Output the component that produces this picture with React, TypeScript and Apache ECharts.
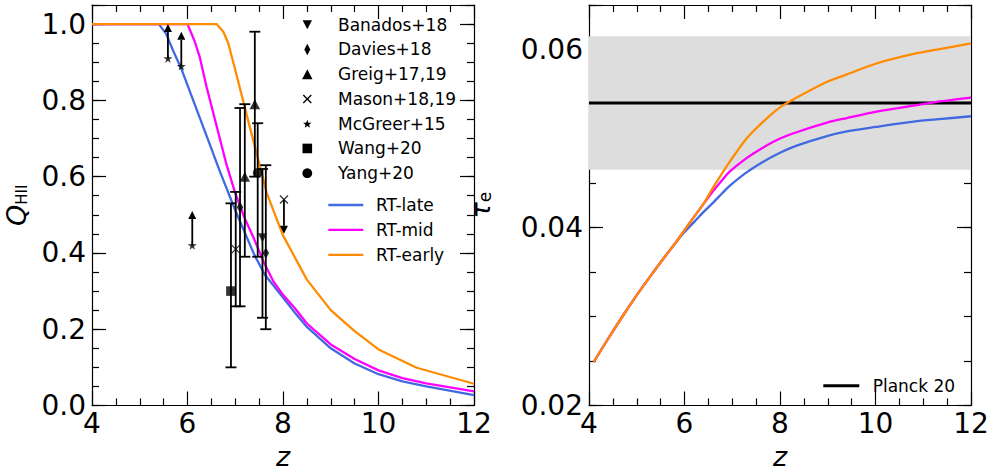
import React, { useEffect, useRef } from 'react';
import * as echarts from 'echarts';

// ---------- data: left panel (ionized fraction) ----------
const zLate = [4.0, 5.4, 5.55, 5.7, 5.87, 6.12, 6.4, 6.68, 7.0, 7.4, 7.62, 8.0, 8.25, 8.5, 9.0, 9.5, 10.0, 10.5, 11.0, 12.0];
const qLate = [1.0, 1.0, 0.975, 0.93, 0.883, 0.8, 0.707, 0.613, 0.512, 0.395, 0.343, 0.283, 0.243, 0.206, 0.15, 0.11, 0.082, 0.063, 0.05, 0.027];
const zMid = [4.0, 6.0, 6.15, 6.26, 6.4, 6.61, 6.82, 7.0, 7.2, 7.4, 7.6, 7.8, 8.0, 8.25, 8.5, 9.0, 9.5, 10.0, 10.5, 11.0, 12.0];
const qMid = [1.0, 1.0, 0.955, 0.912, 0.835, 0.733, 0.63, 0.557, 0.49, 0.435, 0.375, 0.325, 0.29, 0.255, 0.215, 0.16, 0.122, 0.092, 0.072, 0.058, 0.037];
const zEarly = [4.0, 6.61, 6.75, 6.85, 7.03, 7.24, 7.45, 7.66, 8.0, 8.5, 9.0, 9.5, 10.0, 10.8, 12.0];
const qEarly = [1.0, 1.0, 0.98, 0.951, 0.865, 0.762, 0.66, 0.557, 0.446, 0.33, 0.25, 0.195, 0.147, 0.099, 0.057];

// observational constraints
const banadosZ = [7.57], banadosQ = [0.44], banadosLo = [0.23], banadosHi = [0.62];
const daviesZ = [7.1, 7.64], daviesQ = [0.52, 0.4], daviesLo = [0.26, 0.2], daviesHi = [0.78, 0.63];
const greigZ = [7.2, 7.41], greigQ = [0.6, 0.79], greigLo = [0.39, 0.6], greigHi = [0.79, 0.98];
const masonZ = [7.01], masonQ = [0.41], masonLo = [0.26], masonHi = [0.56];
const masonUpperZ = [8.02], masonUpperQ = [0.54];
const mcgreerZ = [5.59, 5.87, 6.1], mcgreerQ = [0.91, 0.89, 0.42];
const wangZ = [6.91], wangQ = [0.3], wangLo = [0.1], wangHi = [0.53];
const yangZ = [7.47], yangQ = [0.61], yangLo = [0.39], yangHi = [0.74];
const LIMIT_LEN = 0.09;

// ---------- data: right panel (optical depth) ----------
const zTau = [4.1, 4.4, 4.7, 5.0, 5.35, 5.6, 5.83, 6.0, 6.2, 6.39, 6.6, 6.8, 6.95, 7.3, 7.65, 8.0, 8.35, 9.0, 9.4, 10.0, 10.8, 11.4, 12.0];
const tauLate = [0.0249, 0.0275, 0.03, 0.0324, 0.035, 0.0368, 0.0384, 0.0395, 0.0406, 0.0417, 0.0428, 0.0439, 0.0447, 0.0462, 0.0474, 0.0484, 0.0492, 0.0503, 0.0508, 0.0513, 0.0519, 0.0522, 0.0525];
const tauMid = [0.0249, 0.0275, 0.03, 0.0324, 0.035, 0.0368, 0.0384, 0.0397, 0.0412, 0.0426, 0.0441, 0.0454, 0.0463, 0.0478, 0.049, 0.05, 0.0507, 0.0518, 0.0523, 0.053, 0.0537, 0.0542, 0.0546];
const tauEarly = [0.0249, 0.0275, 0.03, 0.0324, 0.035, 0.0368, 0.0384, 0.0397, 0.0412, 0.0426, 0.0445, 0.0462, 0.0474, 0.05, 0.0519, 0.0535, 0.0546, 0.0564, 0.0572, 0.0584, 0.0595, 0.0601, 0.0607];
const tauPlanck = 0.054;
const tauPlanckLo = 0.0465;
const tauPlanckHi = 0.0615;

// ---------- axes ----------
const X_MIN = 4, X_MAX = 12, X_STEP = 2;
const Q_MIN = 0, Q_MAX = 1.05, Q_STEP = 0.2, Q_MINOR = 0.05;
const T_MIN = 0.02, T_MAX = 0.065, T_STEP = 0.02, T_MINOR = 0.005;

const FONT = "'DejaVu Sans', sans-serif";
const TICK_FS = 28;
const BLUE = '#4169E1', MAGENTA = '#FF00FF', ORANGE = '#FF8C00';

const SYM_TRI_DOWN = 'path://M0,0L10,0L5,9Z';
const SYM_TRI_UP = 'path://M5,0L10,9L0,9Z';
const SYM_STAR = 'path://M50,0L61,35L98,35L68,57L79,91L50,70L21,91L32,57L2,35L39,35Z';
const SYM_X = 'path://M0,0L10,10M10,0L0,10';

const axisLineStyle = { color: '#000', width: 1.2 };

function xAxesFor(gridIndex: number) {
  const base: any = {
    type: 'value', gridIndex, min: X_MIN, max: X_MAX, interval: X_STEP,
    splitLine: { show: false },
    axisLine: { show: true, onZero: false, lineStyle: axisLineStyle },
    axisTick: { show: true, inside: true, length: 14, lineStyle: axisLineStyle },
    minorTick: { show: true, splitNumber: 4, length: 7, lineStyle: axisLineStyle },
  };
  return [
    {
      ...base, position: 'bottom',
      axisLabel: { show: true, margin: 4, fontSize: TICK_FS, fontFamily: FONT, color: '#000' },
      name: 'z', nameLocation: 'middle', nameGap: 51,
      nameTextStyle: { fontFamily: FONT, fontStyle: 'italic', fontSize: 27, color: '#000', verticalAlign: 'middle' },
    },
    { ...base, position: 'top', axisLabel: { show: false } },
  ];
}

function yAxesFor(gridIndex: number, min: number, max: number, major: number, minor: number, decimals: number, name: string, nameGap: number, rich: any) {
  const tick = (len: number) => ({ show: true, inside: true, length: len, lineStyle: axisLineStyle });
  const base: any = { type: 'value', gridIndex, min, max, splitLine: { show: false }, minorTick: { show: false } };
  const fmt = (v: number) => (Math.abs(v / major - Math.round(v / major)) < 1e-6 ? v.toFixed(decimals) : '');
  return [
    {
      ...base, position: 'left', interval: major,
      axisLine: { show: true, onZero: false, lineStyle: axisLineStyle }, axisTick: tick(14),
      axisLabel: { show: true, margin: 6, fontSize: TICK_FS, fontFamily: FONT, color: '#000', formatter: fmt },
      name, nameLocation: 'middle', nameGap, nameRotate: 90,
      nameTextStyle: { fontFamily: FONT, fontSize: 26, color: '#000', verticalAlign: 'middle', rich },
    },
    { ...base, position: 'left', interval: minor, axisLine: { show: false }, axisTick: tick(7), axisLabel: { show: false } },
    { ...base, position: 'right', interval: major, axisLine: { show: true, onZero: false, lineStyle: axisLineStyle }, axisTick: tick(14), axisLabel: { show: false } },
    { ...base, position: 'right', interval: minor, axisLine: { show: false }, axisTick: tick(7), axisLabel: { show: false } },
  ];
}

function pairs(xs: number[], ys: number[]) {
  return xs.map((x, i) => [x, ys[i]]);
}

function curve(name: string, xs: number[], ys: number[], color: string, xi: number, yi: number, smooth: any = false) {
  return {
    type: 'line', name, xAxisIndex: xi, yAxisIndex: yi, data: pairs(xs, ys),
    showSymbol: false, symbol: 'none', smooth, z: 2,
    lineStyle: { color, width: 2.3 }, itemStyle: { color }, silent: true,
  };
}

const CAP = 5.5;
function errorBars(name: string, zs: number[], los: number[], his: number[]) {
  return {
    type: 'custom', name: name + ' err', xAxisIndex: 0, yAxisIndex: 0, z: 3, silent: true,
    data: zs.map((z, i) => [z, los[i], his[i]]),
    renderItem: (params: any, api: any) => {
      const x = api.value(0);
      const a = api.coord([x, api.value(1)]);
      const b = api.coord([x, api.value(2)]);
      const style = { stroke: '#000', lineWidth: 1.8 };
      return {
        type: 'group',
        children: [
          { type: 'line', shape: { x1: a[0], y1: a[1], x2: b[0], y2: b[1] }, style },
          { type: 'line', shape: { x1: a[0] - CAP, y1: a[1], x2: a[0] + CAP, y2: a[1] }, style },
          { type: 'line', shape: { x1: b[0] - CAP, y1: b[1], x2: b[0] + CAP, y2: b[1] }, style },
        ],
      };
    },
  };
}

function limitArrows(name: string, zs: number[], qs: number[], dirSign: number) {
  return {
    type: 'custom', name: name + ' lim', xAxisIndex: 0, yAxisIndex: 0, z: 3, silent: true,
    data: zs.map((z, i) => [z, qs[i], qs[i] + dirSign * LIMIT_LEN]),
    renderItem: (params: any, api: any) => {
      const x = api.value(0);
      const a = api.coord([x, api.value(1)]);
      const b = api.coord([x, api.value(2)]);
      const dir = b[1] < a[1] ? -1 : 1;
      const H = 8, W = 8;
      const base = b[1] - dir * H;
      return {
        type: 'group',
        children: [
          { type: 'line', shape: { x1: a[0], y1: a[1], x2: b[0], y2: base }, style: { stroke: '#000', lineWidth: 1.8 } },
          { type: 'polygon', shape: { points: [[b[0], b[1]], [b[0] - W / 2, base], [b[0] + W / 2, base]] }, style: { fill: '#000' } },
        ],
      };
    },
  };
}

function markers(name: string, zs: number[], qs: number[], symbol: string, size: any, hollow = false) {
  return {
    type: 'scatter', name, xAxisIndex: 0, yAxisIndex: 0, z: 4, silent: true,
    data: pairs(zs, qs), symbol, symbolSize: size,
    itemStyle: hollow ? { color: 'rgba(0,0,0,0)', borderColor: '#000', borderWidth: 1.3 } : { color: '#000' },
  };
}

// ---------- legend drawing helpers (graphic) ----------
function starPoints(cx: number, cy: number, R: number, r: number) {
  const pts: number[][] = [];
  for (let k = 0; k < 10; k++) {
    const ang = -Math.PI / 2 + (k * Math.PI) / 5;
    const rad = k % 2 === 0 ? R : r;
    pts.push([cx + rad * Math.cos(ang), cy + rad * Math.sin(ang)]);
  }
  return pts;
}

function legendMarker(kind: string, cx: number, cy: number): any {
  const s = { fill: '#000' };
  switch (kind) {
    case 'tridown':
      return { type: 'polygon', shape: { points: [[cx - 4.7, cy - 4.5], [cx + 4.7, cy - 4.5], [cx, cy + 4.5]] }, style: s };
    case 'diamond':
      return { type: 'polygon', shape: { points: [[cx, cy - 5.8], [cx + 3, cy], [cx, cy + 5.8], [cx - 3, cy]] }, style: s };
    case 'triup':
      return { type: 'polygon', shape: { points: [[cx, cy - 5], [cx + 5.2, cy + 5], [cx - 5.2, cy + 5]] }, style: s };
    case 'x':
      return {
        type: 'group',
        children: [
          { type: 'line', shape: { x1: cx - 4, y1: cy - 4, x2: cx + 4, y2: cy + 4 }, style: { stroke: '#000', lineWidth: 1.3 } },
          { type: 'line', shape: { x1: cx - 4, y1: cy + 4, x2: cx + 4, y2: cy - 4 }, style: { stroke: '#000', lineWidth: 1.3 } },
        ],
      };
    case 'star':
      return { type: 'polygon', shape: { points: starPoints(cx, cy + 0.5, 4.4, 1.9) }, style: s };
    case 'square':
      return { type: 'rect', shape: { x: cx - 4.8, y: cy - 4.8, width: 9.6, height: 9.6 }, style: s };
    default:
      return { type: 'circle', shape: { cx, cy, r: 4.9 }, style: s };
  }
}

function legendText(text: string, x: number, y: number) {
  return {
    type: 'text', x, y,
    style: { text, fill: '#000', font: `17px ${FONT}`, align: 'left', verticalAlign: 'middle', textAlign: 'left', textVerticalAlign: 'middle' },
  };
}

const markerLegend = [
  { name: 'Banados+18', kind: 'tridown' },
  { name: 'Davies+18', kind: 'diamond' },
  { name: 'Greig+17,19', kind: 'triup' },
  { name: 'Mason+18,19', kind: 'x' },
  { name: 'McGreer+15', kind: 'star' },
  { name: 'Wang+20', kind: 'square' },
  { name: 'Yang+20', kind: 'circle' },
];
const lineLegend = [
  { name: 'RT-late', color: BLUE },
  { name: 'RT-mid', color: MAGENTA },
  { name: 'RT-early', color: ORANGE },
];

function buildGraphic() {
  const els: any[] = [];
  const rowY0 = 24.7, rowStep = 24.75;
  markerLegend.forEach((m, i) => {
    const y = rowY0 + i * rowStep;
    els.push(legendMarker(m.kind, 307.3, y));
    els.push(legendText(m.name, 338, y));
  });
  lineLegend.forEach((l, i) => {
    const y = 205 + i * 24.9;
    els.push({ type: 'line', shape: { x1: 328.3, y1: y, x2: 363.3, y2: y }, style: { stroke: l.color, lineWidth: 2.3 } });
    els.push(legendText(l.name, 376, y));
  });
  els.push({ type: 'line', shape: { x1: 823.3, y1: 385.7, x2: 859.3, y2: 385.7 }, style: { stroke: '#000', lineWidth: 3 } });
  els.push(legendText('Planck 20', 872.7, 385.7));
  return els;
}

export default function App() {
  const ref = useRef<HTMLDivElement>(null);
  useEffect(() => {
    if (!ref.current) return;
    const chart = echarts.init(ref.current, undefined, { renderer: 'svg' });
    const leftRich = {
      q: { fontFamily: FONT, fontSize: 27, fontStyle: 'italic', color: '#000' },
      s: { fontFamily: FONT, fontSize: 15, color: '#000', verticalAlign: 'bottom' },
    };
    const rightRich = {
      q: { fontFamily: FONT, fontSize: 27, fontStyle: 'italic', color: '#000' },
      s: { fontFamily: FONT, fontSize: 17, color: '#000', verticalAlign: 'bottom' },
    };
    const option: any = {
      animation: false,
      backgroundColor: '#fff',
      textStyle: { fontFamily: FONT },
      grid: [
        { left: 92, top: 5, width: 382, height: 408, containLabel: false },
        { left: 589, top: 5, width: 382, height: 408, containLabel: false },
      ],
      xAxis: [...xAxesFor(0), ...xAxesFor(1)],
      yAxis: [
        ...yAxesFor(0, Q_MIN, Q_MAX, Q_STEP, Q_MINOR, 1, '{q|Q}{s|HII}', 76, leftRich),
        ...yAxesFor(1, T_MIN, T_MAX, T_STEP, T_MINOR, 2, '{q|τ}{s|e}', 109, rightRich),
      ],
      series: [
        // left panel
        curve('RT-late', zLate, qLate, BLUE, 0, 0),
        curve('RT-mid', zMid, qMid, MAGENTA, 0, 0),
        curve('RT-early', zEarly, qEarly, ORANGE, 0, 0),
        errorBars('Banados+18', banadosZ, banadosLo, banadosHi),
        errorBars('Davies+18', daviesZ, daviesLo, daviesHi),
        errorBars('Greig+17,19', greigZ, greigLo, greigHi),
        errorBars('Mason+18,19', masonZ, masonLo, masonHi),
        errorBars('Wang+20', wangZ, wangLo, wangHi),
        errorBars('Yang+20', yangZ, yangLo, yangHi),
        limitArrows('McGreer+15', mcgreerZ, mcgreerQ, 1),
        limitArrows('Mason+18,19', masonUpperZ, masonUpperQ, -1),
        markers('Banados+18', banadosZ, banadosQ, SYM_TRI_DOWN, [9.5, 9]),
        markers('Davies+18', daviesZ, daviesQ, 'diamond', [6.5, 11.5]),
        markers('Greig+17,19', greigZ, greigQ, SYM_TRI_UP, [10.5, 10]),
        markers('Mason+18,19', [...masonZ, ...masonUpperZ], [...masonQ, ...masonUpperQ], SYM_X, 8, true),
        markers('McGreer+15', mcgreerZ, mcgreerQ, SYM_STAR, 9),
        markers('Wang+20', wangZ, wangQ, 'rect', 9.6),
        markers('Yang+20', yangZ, yangQ, 'circle', 9.8),
        // right panel
        {
          type: 'custom', name: 'Planck band', xAxisIndex: 2, yAxisIndex: 4, z: 1, silent: true,
          data: [[tauPlanckLo, tauPlanckHi]],
          renderItem: (params: any, api: any) => {
            const p1 = api.coord([X_MIN, api.value(1)]);
            const p2 = api.coord([X_MAX, api.value(0)]);
            return { type: 'rect', shape: { x: p1[0], y: p1[1], width: p2[0] - p1[0], height: p2[1] - p1[1] }, style: { fill: '#dddddd' } };
          },
        },
        {
          type: 'line', name: 'Planck 20', xAxisIndex: 2, yAxisIndex: 4, z: 2, silent: true,
          data: [[X_MIN, tauPlanck], [X_MAX, tauPlanck]], showSymbol: false, symbol: 'none',
          lineStyle: { color: '#000', width: 3 }, itemStyle: { color: '#000' },
        },
        { ...curve('RT-late τ', zTau, tauLate, BLUE, 2, 4, 0.3), z: 3 },
        { ...curve('RT-mid τ', zTau, tauMid, MAGENTA, 2, 4, 0.3), z: 3 },
        { ...curve('RT-early τ', zTau, tauEarly, ORANGE, 2, 4, 0.3), z: 3 },
      ],
      graphic: buildGraphic(),
    };
    chart.setOption(option);
    return () => chart.dispose();
  }, []);
  return <div ref={ref} style={{ position: 'fixed', left: 0, top: 0, width: 998, height: 475, background: '#fff' }} />;
}
